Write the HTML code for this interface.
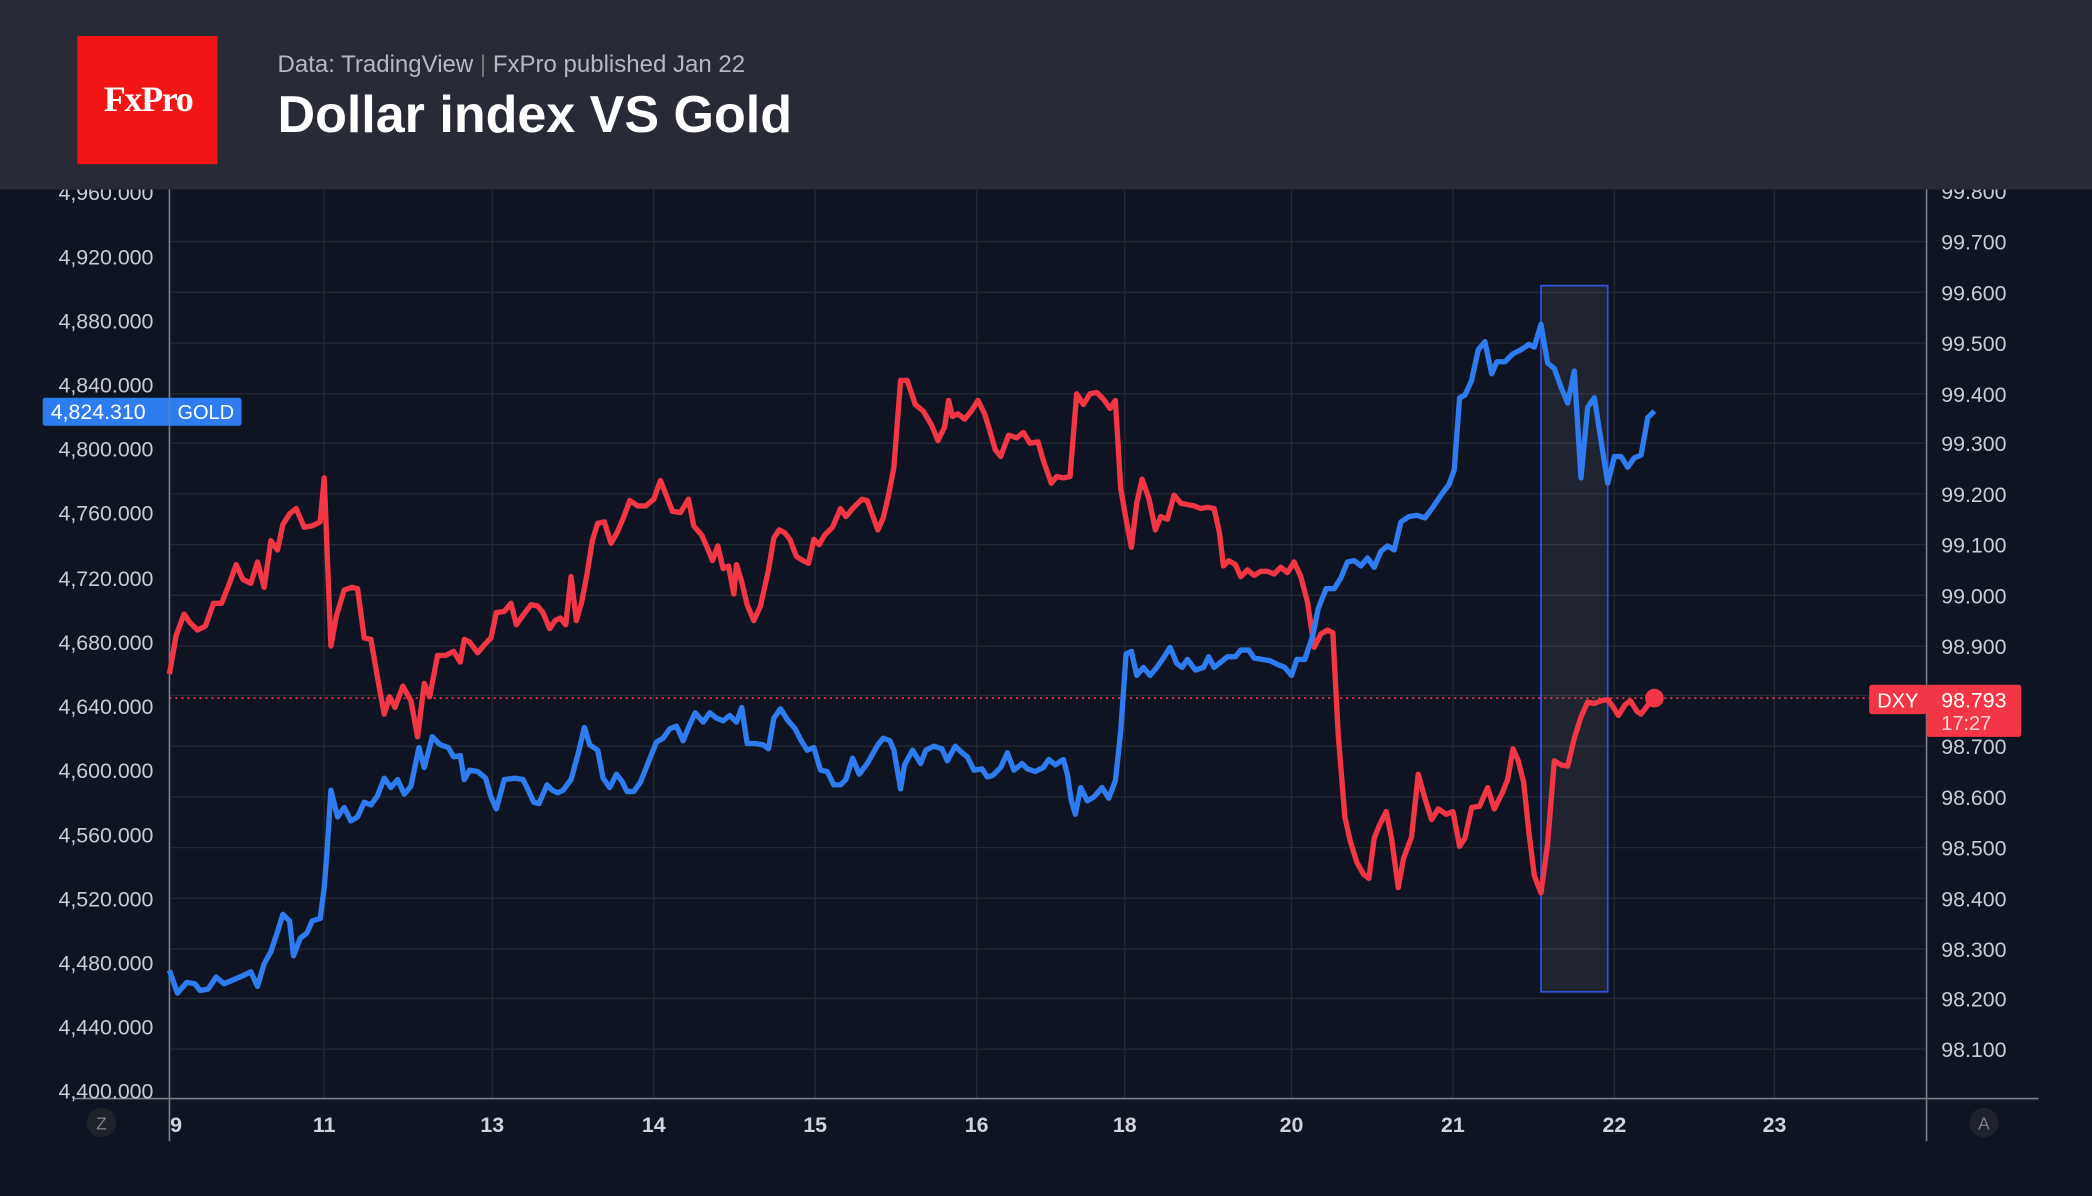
<!DOCTYPE html>
<html><head><meta charset="utf-8"><style>
html,body{margin:0;padding:0;background:#0e1421;}
svg{display:block}
text{font-family:"Liberation Sans",sans-serif}
</style></head><body>
<svg width="2092" height="1196" viewBox="0 0 1568 896" preserveAspectRatio="none" xmlns="http://www.w3.org/2000/svg">
<rect x="0" y="0" width="1568" height="896" fill="#0e1421"/>
<g stroke="#232833" stroke-width="1">
<line x1="127" y1="181" x2="1444" y2="181"/><line x1="127" y1="219" x2="1444" y2="219"/><line x1="127" y1="257" x2="1444" y2="257"/><line x1="127" y1="295" x2="1444" y2="295"/><line x1="127" y1="332" x2="1444" y2="332"/><line x1="127" y1="370" x2="1444" y2="370"/><line x1="127" y1="408" x2="1444" y2="408"/><line x1="127" y1="446" x2="1444" y2="446"/><line x1="127" y1="484" x2="1444" y2="484"/><line x1="127" y1="521" x2="1444" y2="521"/><line x1="127" y1="559" x2="1444" y2="559"/><line x1="127" y1="597" x2="1444" y2="597"/><line x1="127" y1="635" x2="1444" y2="635"/><line x1="127" y1="673" x2="1444" y2="673"/><line x1="127" y1="711" x2="1444" y2="711"/><line x1="127" y1="748" x2="1444" y2="748"/><line x1="127" y1="786" x2="1444" y2="786"/>
<line x1="243" y1="142" x2="243" y2="823"/><line x1="369" y1="142" x2="369" y2="823"/><line x1="490" y1="142" x2="490" y2="823"/><line x1="611" y1="142" x2="611" y2="823"/><line x1="732" y1="142" x2="732" y2="823"/><line x1="843" y1="142" x2="843" y2="823"/><line x1="968" y1="142" x2="968" y2="823"/><line x1="1089" y1="142" x2="1089" y2="823"/><line x1="1210" y1="142" x2="1210" y2="823"/><line x1="1330" y1="142" x2="1330" y2="823"/>
</g>
<line x1="127" y1="142" x2="127" y2="855" stroke="#7a7e88" stroke-width="1.2"/>
<line x1="1444" y1="142" x2="1444" y2="855" stroke="#7a7e88" stroke-width="1.2"/>
<line x1="55" y1="823" x2="1528" y2="823" stroke="#7a7e88" stroke-width="1.2"/>
<rect x="1155" y="214" width="50" height="529" fill="rgba(255,255,255,0.07)" stroke="#3352d8" stroke-width="1.3"/>
<line x1="127" y1="523" x2="1401" y2="523" stroke="#f23645" stroke-width="1.3" stroke-dasharray="1.5,3"/>
<g font-size="16" fill="#c9ccd3" text-anchor="end">
<text x="115" y="150">4,960.000</text><text x="115" y="198">4,920.000</text><text x="115" y="246">4,880.000</text><text x="115" y="294">4,840.000</text><text x="115" y="342">4,800.000</text><text x="115" y="390">4,760.000</text><text x="115" y="439">4,720.000</text><text x="115" y="487">4,680.000</text><text x="115" y="535">4,640.000</text><text x="115" y="583">4,600.000</text><text x="115" y="631">4,560.000</text><text x="115" y="679">4,520.000</text><text x="115" y="727">4,480.000</text><text x="115" y="775">4,440.000</text><text x="115" y="823">4,400.000</text>
</g>
<g font-size="16" fill="#c9ccd3">
<text x="1455" y="149">99.800</text><text x="1455" y="187">99.700</text><text x="1455" y="225">99.600</text><text x="1455" y="263">99.500</text><text x="1455" y="301">99.400</text><text x="1455" y="338">99.300</text><text x="1455" y="376">99.200</text><text x="1455" y="414">99.100</text><text x="1455" y="452">99.000</text><text x="1455" y="490">98.900</text><text x="1455" y="565">98.700</text><text x="1455" y="603">98.600</text><text x="1455" y="641">98.500</text><text x="1455" y="679">98.400</text><text x="1455" y="717">98.300</text><text x="1455" y="754">98.200</text><text x="1455" y="792">98.100</text>
</g>
<g font-size="16" font-weight="bold" fill="#d1d4dc" text-anchor="middle">
<text x="132" y="848">9</text><text x="243" y="848">11</text><text x="369" y="848">13</text><text x="490" y="848">14</text><text x="611" y="848">15</text><text x="732" y="848">16</text><text x="843" y="848">18</text><text x="968" y="848">20</text><text x="1089" y="848">21</text><text x="1210" y="848">22</text><text x="1330" y="848">23</text>
</g>
<circle cx="76" cy="841" r="11" fill="#1e222b"/><text x="76" y="846" font-size="13" fill="#7a7e88" text-anchor="middle">Z</text>
<circle cx="1487" cy="841" r="11" fill="#1e222b"/><text x="1487" y="846" font-size="13" fill="#7a7e88" text-anchor="middle">A</text>
<polyline fill="none" stroke="#f23645" stroke-width="4" stroke-linejoin="round" points="127,505 132,476 138,460 142,466 148,472 154,469 160,452 166,452 172,437 177,423 182,434 188,437 193,421 198,440 203,405 208,412 212,393 217,385 222,381 228,395 234,394 240,391 243,358 248,484 252,462 258,442 264,440 268,441 273,478 278,479 283,508 288,535 292,522 296,530 302,514 308,525 313,552 318,512 322,522 328,491 334,491 340,488 345,496 348,479 352,481 358,489 364,482 368,478 372,459 378,458 383,452 387,468 392,461 398,453 403,454 407,459 412,471 416,465 420,463 424,468 428,432 432,465 436,451 440,430 444,405 448,392 453,391 458,407 463,398 468,386 472,375 478,379 484,379 490,374 495,360 499,370 504,383 510,384 516,374 520,394 526,401 530,410 534,420 538,409 542,426 546,424 550,445 552,423 556,436 560,453 565,465 570,454 576,427 580,403 584,397 588,399 592,404 597,417 602,420 606,422 610,404 614,408 618,401 624,395 630,381 634,387 640,380 646,374 650,375 654,386 658,397 662,388 666,371 670,350 675,285 680,285 686,303 692,308 698,318 703,330 708,320 711,300 714,312 718,310 723,314 728,308 733,300 738,310 742,323 746,337 750,342 756,326 762,328 767,324 772,332 778,331 782,345 788,362 792,357 797,358 802,357 807,295 812,303 817,295 822,294 827,299 832,306 836,300 840,366 844,389 848,410 852,377 856,359 861,373 866,397 870,387 875,389 880,371 885,377 890,378 895,379 900,381 905,380 910,381 914,399 917,424 921,420 926,423 930,432 935,427 940,431 945,428 950,428 955,430 960,425 965,429 970,421 975,432 980,451 985,485 990,475 995,472 999,474 1003,550 1008,612 1012,630 1017,646 1022,655 1026,658 1030,628 1034,618 1039,608 1043,628 1048,665 1052,643 1058,627 1063,580 1068,598 1073,614 1078,606 1084,610 1089,608 1094,634 1098,628 1103,605 1109,604 1115,590 1120,606 1126,594 1130,584 1134,561 1138,570 1142,586 1146,624 1150,656 1155,669 1160,632 1165,570 1170,573 1175,574 1180,553 1185,537 1190,526 1195,527 1200,525 1205,524 1210,531 1213,536 1218,528 1222,525 1227,533 1230,535 1236,527 1240,523"/>
<polyline fill="none" stroke="#2f7bf0" stroke-width="4" stroke-linejoin="round" points="127,727 133,744 140,736 146,737 150,742 156,741 162,732 168,737 175,734 182,731 188,728 193,739 198,722 203,713 208,698 212,685 217,690 220,716 225,703 230,699 234,690 240,688 243,665 245,640 248,592 253,612 258,605 263,615 268,612 273,601 278,603 283,596 288,583 293,590 298,584 303,595 308,589 314,560 318,575 324,552 330,558 336,560 340,567 345,566 348,584 352,577 358,578 364,583 368,597 372,606 378,584 386,583 392,584 396,592 400,601 404,602 410,588 414,592 418,594 422,592 428,584 433,566 438,545 442,558 448,562 452,583 457,590 462,580 466,585 470,593 475,593 480,586 486,571 492,556 497,553 502,546 507,544 512,555 516,545 521,534 527,541 532,534 537,538 542,540 547,536 552,541 556,530 560,557 566,557 572,558 576,561 580,538 585,531 590,539 596,546 600,554 605,562 610,560 615,577 620,578 625,588 630,588 634,584 639,568 644,580 650,572 654,565 658,558 662,553 667,555 670,562 675,591 678,573 684,562 690,572 694,562 700,559 706,561 710,570 716,559 720,563 725,567 730,577 736,576 740,582 744,581 750,575 755,564 760,577 766,572 770,576 776,578 782,575 786,569 791,573 797,569 800,580 803,600 806,610 810,590 815,600 820,597 826,590 831,598 836,585 840,548 844,490 848,488 852,506 857,500 862,506 867,500 872,493 877,485 882,497 886,500 890,494 896,502 902,500 906,492 910,500 915,496 920,492 926,492 930,487 936,487 940,493 946,494 952,495 958,498 963,500 968,506 972,494 978,494 984,476 988,456 994,441 1000,441 1005,433 1010,421 1015,420 1020,424 1025,418 1030,425 1035,413 1040,409 1045,412 1050,391 1056,387 1062,386 1068,388 1074,380 1080,371 1086,363 1090,352 1094,298 1098,296 1103,285 1108,262 1113,256 1118,280 1122,271 1128,271 1134,265 1140,262 1146,258 1150,260 1155,243 1160,272 1165,276 1170,290 1175,302 1180,278 1185,358 1190,305 1195,298 1200,330 1205,362 1210,342 1215,342 1220,350 1225,343 1230,341 1235,313 1240,308"/>
<circle cx="1240" cy="523" r="7" fill="#f23645"/>
<rect x="32" y="298" width="149" height="21" rx="2" fill="#2f7bf0"/>
<line x1="127" y1="298" x2="127" y2="319" stroke="#7a7e88" stroke-width="1"/>
<text x="38" y="314" font-size="16" fill="#fff">4,824.310</text>
<text x="133" y="314" font-size="15" fill="#fff">GOLD</text>
<rect x="1401" y="513" width="43" height="22" rx="2" fill="#f23645"/>
<text x="1407" y="530" font-size="15" fill="#fff">DXY</text>
<rect x="1444" y="513" width="71" height="39" rx="2" fill="#f23645"/>
<text x="1455" y="530" font-size="16" fill="#fff">98.793</text>
<text x="1455" y="547" font-size="15" fill="#ffd6da">17:27</text>
<rect x="0" y="0" width="1568" height="142" fill="#282b36"/>
<rect x="58" y="27" width="105" height="96" fill="#f31515"/>
<text x="111" y="83" font-size="27" font-weight="bold" fill="#fff" text-anchor="middle" style="font-family:'Liberation Serif',serif;letter-spacing:-1px">FxPro</text>
<text x="208" y="54" font-size="18" fill="#b5b8c0">Data: TradingView <tspan fill="#777">|</tspan> FxPro published Jan 22</text>
<text x="208" y="99" font-size="39" font-weight="bold" fill="#fff">Dollar index VS Gold</text>
</svg>
</body></html>
